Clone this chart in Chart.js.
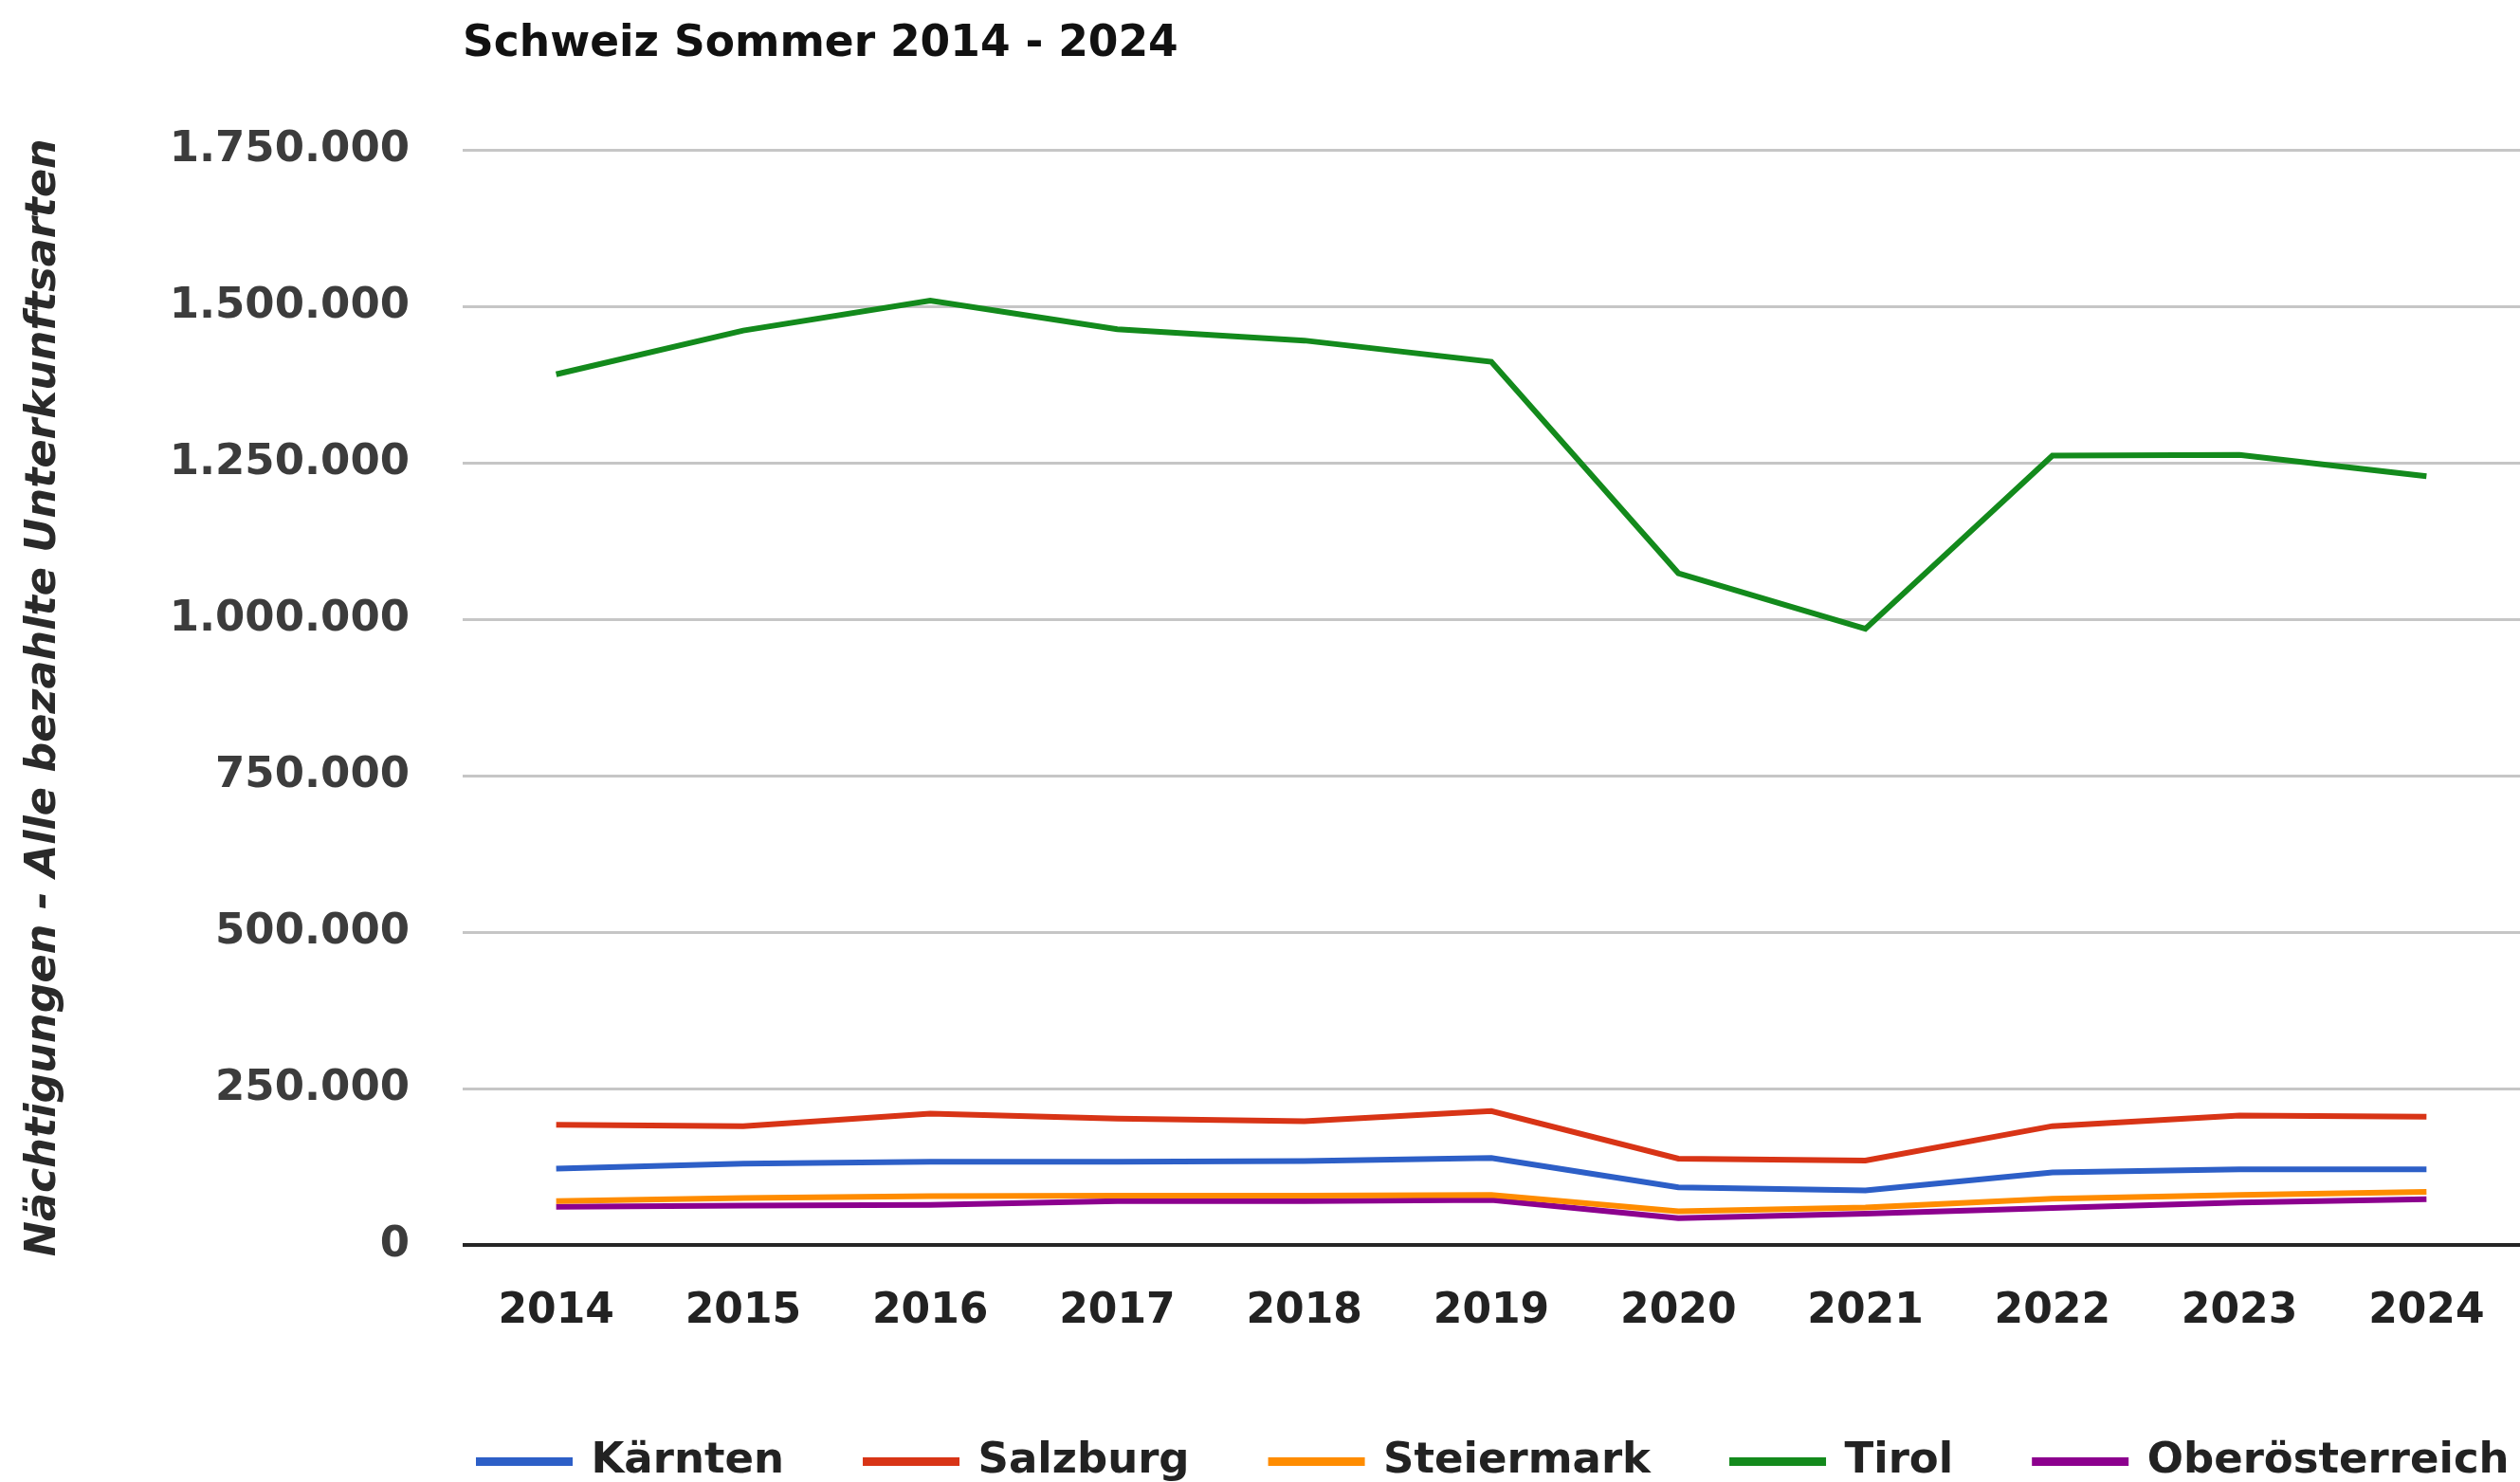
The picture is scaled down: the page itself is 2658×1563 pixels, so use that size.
<!DOCTYPE html>
<html>
<head>
<meta charset="utf-8">
<script src="https://cdn.jsdelivr.net/npm/chart.js@4.4.1/dist/chart.umd.min.js"></script>
<style>
  html, body { margin: 0; padding: 0; background: #fff; }
  canvas { display: block; }
</style>
</head>
<body>
<canvas id="chart" width="2658" height="1563"></canvas>
<script>
var years = ["2014", "2015", "2016", "2017", "2018", "2019", "2020", "2021", "2022", "2023", "2024"];
var kaernten = [122000, 130000, 133000, 133000, 134000, 139000, 92000, 87000, 116000, 121000, 121000];
var salzburg = [192000, 190000, 210000, 202000, 198000, 214000, 138000, 135000, 190000, 207000, 205000];
var steiermark = [70000, 75000, 78000, 79000, 79000, 80000, 54000, 60000, 74000, 80000, 85000];
var tirol = [1392000, 1462000, 1510000, 1464000, 1446000, 1412000, 1074000, 985000, 1262000, 1263000, 1229000];
var oberoesterreich = [61000, 63000, 64000, 70000, 70000, 72000, 43000, 50000, 59000, 68000, 73000];

function fmt(v) {
  return String(v).replace(/\B(?=(\d{3})+(?!\d))/g, ".");
}

function line(label, data, color) {
  return {
    label: label,
    data: data,
    borderColor: color,
    backgroundColor: color,
    borderWidth: 6,
    pointRadius: 0,
    tension: 0,
    fill: false,
  };
}

Chart.defaults.font.family = "'DejaVu Sans', Verdana, sans-serif";
Chart.defaults.font.weight = "bold";

// legend sits under the plot, shifted right like the original
var legendShift = {
  id: "legendShift",
  afterLayout: function (chart) {
    chart.legend.left = 419;
    chart.legend.right = 419 + 2658;
  },
};

var ctx = document.getElementById("chart").getContext("2d");
var myChart = new Chart(ctx, {
  type: "line",
  data: {
    labels: years,
    datasets: [
      line("Kärnten", kaernten, "#2d5fc7"),
      line("Salzburg", salzburg, "#d83416"),
      line("Steiermark", steiermark, "#ff8c00"),
      line("Tirol", tirol, "#138a1c"),
      line("Oberösterreich", oberoesterreich, "#8c008e"),
    ],
  },
  options: {
    responsive: false,
    devicePixelRatio: 1,
    animation: false,
    layout: { padding: { left: 0, right: 0, top: 0, bottom: -11 } },
    plugins: {
      title: {
        display: true,
        text: "Schweiz Sommer 2014 - 2024",
        align: "start",
        fullSize: false,
        color: "#111",
        font: { size: 45.5, weight: "bold" },
        padding: { top: 20, bottom: 84 },
      },
      legend: {
        position: "bottom",
        align: "start",
        labels: {
          boxWidth: 96,
          boxHeight: 3,
          padding: 86,
          color: "#222",
          font: { size: 45, weight: "bold" },
        },
      },
      tooltip: { enabled: false },
    },
    scales: {
      x: {
        offset: true,
        grid: { display: false },
        border: { display: false },
        ticks: {
          color: "#222",
          padding: 36,
          font: { size: 44, weight: "bold" },
        },
        afterFit: function (scale) {
          scale.height = 120;
        },
      },
      y: {
        min: 0,
        max: 1750000,
        border: { display: false },
        grid: {
          drawTicks: false,
          color: function (c) {
            return c.tick && c.tick.value === 0 ? "#262626" : "#c6c6c6";
          },
          lineWidth: function (c) {
            return c.tick && c.tick.value === 0 ? 4 : 3;
          },
        },
        ticks: {
          stepSize: 250000,
          padding: 56,
          color: "#3c3c3c",
          font: { size: 45, weight: "bold" },
          callback: function (v) {
            return fmt(v);
          },
        },
        title: {
          display: true,
          text: "Nächtigungen - Alle bezahlte Unterkunftsarten",
          color: "#2a2a2a",
          font: { size: 44.5, weight: "bold", style: "italic" },
          padding: { top: 20, bottom: 0 },
        },
        afterFit: function (scale) {
          scale.width = 488;
        },
      },
    },
  },
  plugins: [legendShift],
});
</script>
</body>
</html>
